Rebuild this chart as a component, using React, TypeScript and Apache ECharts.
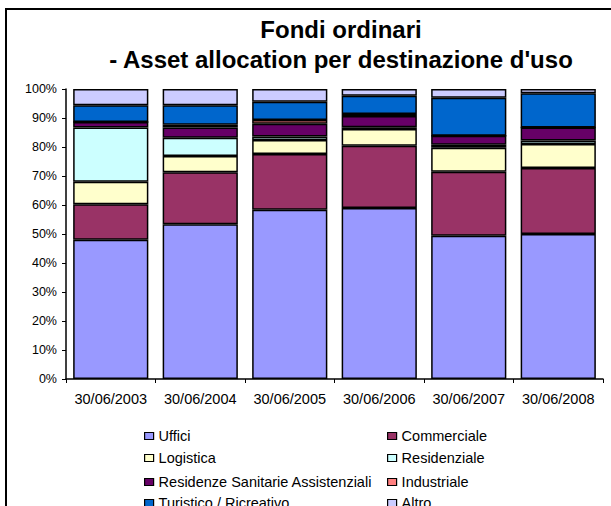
import React, { useEffect, useRef } from "react";
import * as echarts from "echarts";

const categories = ["30/06/2003", "30/06/2004", "30/06/2005", "30/06/2006", "30/06/2007", "30/06/2008"];
const uffici = [48.0, 53.4, 58.4, 59.0, 49.4, 50.0];
const commerciale = [12.3, 17.9, 19.2, 21.4, 22.1, 22.8];
const logistica = [7.7, 5.6, 4.8, 5.8, 8.2, 8.2];
const residenziale = [18.7, 6.3, 1.2, 0.6, 1.1, 1.2];
const rsa = [1.9, 3.5, 4.4, 3.9, 3.1, 4.5];
const industriale = [0, 1.0, 1.3, 0.7, 0, 0];
const turistico = [5.8, 6.7, 6.3, 6.3, 13.1, 11.8];
const altro = [5.6, 5.6, 4.4, 2.3, 3.0, 1.5];

const seriesDefs = [
  { name: "Uffici", data: uffici, color: "#9999FF" },
  { name: "Commerciale", data: commerciale, color: "#993366" },
  { name: "Logistica", data: logistica, color: "#FFFFCC" },
  { name: "Residenziale", data: residenziale, color: "#CCFFFF" },
  { name: "Residenze Sanitarie Assistenziali", data: rsa, color: "#660066" },
  { name: "Industriale", data: industriale, color: "#FF8080" },
  { name: "Turistico / Ricreativo", data: turistico, color: "#0066CC" },
  { name: "Altro", data: altro, color: "#CCCCFF" },
];

// legend layout: two columns, four rows
const legendCols = [144, 387];
const legendRowTops = [428, 450, 474, 495];

const FONT = "'Liberation Sans', Arial, sans-serif";

export default function App() {
  const ref = useRef<HTMLDivElement>(null);
  useEffect(() => {
    document.body.style.margin = "0";
    const chart = echarts.init(ref.current!, undefined, { renderer: "svg" });
    const legends = seriesDefs.map((s, i) => ({
      orient: "horizontal" as const,
      left: legendCols[i % 2],
      top: legendRowTops[Math.floor(i / 2)],
      padding: 0,
      itemWidth: 9,
      itemHeight: 7,
      icon: "rect",
      itemStyle: { borderColor: "#000", borderWidth: 1.2 },
      textStyle: { fontFamily: FONT, fontSize: 14.5, color: "#000", lineHeight: 16 },
      selectedMode: false,
      data: [s.name],
    }));
    chart.setOption({
      animation: false,
      backgroundColor: "#fff",
      textStyle: { fontFamily: FONT },
      title: [
        {
          text: "Fondi ordinari",
          left: 341,
          top: 17,
          textAlign: "center",
          padding: 0,
          textStyle: { fontFamily: FONT, fontSize: 24, fontWeight: "bold", color: "#000" },
        },
        {
          text: "- Asset allocation per destinazione d'uso",
          left: 341,
          top: 47,
          textAlign: "center",
          padding: 0,
          textStyle: { fontFamily: FONT, fontSize: 24, fontWeight: "bold", color: "#000" },
        },
      ],
      legend: legends,
      grid: { left: 66, right: 8, top: 89, bottom: 127, containLabel: false },
      xAxis: {
        type: "category",
        data: categories,
        axisLine: { lineStyle: { color: "#000", width: 1.5 } },
        axisTick: { show: true, length: 4, lineStyle: { color: "#000" } },
        axisLabel: { color: "#000", fontSize: 14.5, fontFamily: FONT, margin: 12, interval: 0 },
      },
      yAxis: {
        type: "value",
        min: 0,
        max: 100,
        interval: 10,
        splitLine: { show: false },
        axisLine: { show: true, lineStyle: { color: "#000", width: 1.5 } },
        axisTick: { show: true, length: 4, lineStyle: { color: "#000" } },
        axisLabel: { color: "#000", fontSize: 12.5, fontFamily: FONT, formatter: "{value}%", margin: 9 },
      },
      series: seriesDefs.map((s) => ({
        name: s.name,
        type: "bar",
        stack: "total",
        data: s.data,
        barCategoryGap: "16%",
        itemStyle: { color: s.color, borderColor: "#000", borderWidth: 1.5 },
      })),
      graphic: [
        {
          type: "rect",
          shape: { x: 6, y: 9, width: 700, height: 600 },
          style: { fill: "none", stroke: "#000", lineWidth: 2 },
          silent: true,
        },
      ],
    });
    return () => chart.dispose();
  }, []);
  return <div ref={ref} style={{ width: 611, height: 506 }} />;
}
